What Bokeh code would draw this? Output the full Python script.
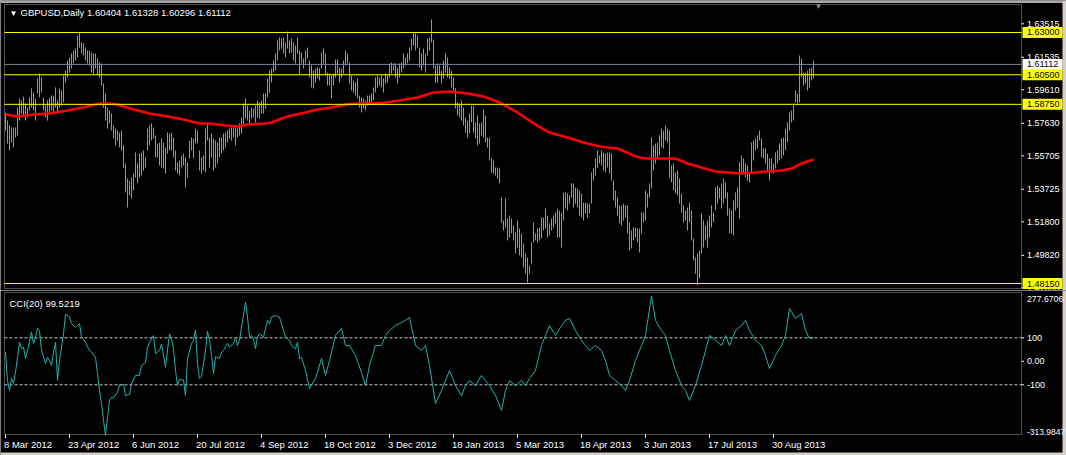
from bokeh.plotting import figure
from bokeh.models import Range1d, Label, BoxAnnotation, ColumnDataSource
from bokeh.layouts import column
from bokeh.embed import file_html
from bokeh.resources import INLINE

FONT = "Liberation Sans"
BAR = "#2fe12f"

# ---------------- data ----------------
bar_high = [
    1.5827, 1.5779, 1.5750, 1.5738, 1.5738, 1.5738, 1.5856, 1.5910, 1.5898, 1.5921,
    1.5880, 1.5856, 1.5916, 1.5969, 1.5945, 1.5910, 1.6028, 1.6057, 1.6034, 1.5916,
    1.5868, 1.5898, 1.5916, 1.5927, 1.5927, 1.5975, 1.5898, 1.5969, 1.5957, 1.6046,
    1.6075, 1.6134, 1.6152, 1.6176, 1.6194, 1.6205, 1.6282, 1.6303, 1.6241, 1.6235,
    1.6211, 1.6194, 1.6194, 1.6182, 1.6176, 1.6176, 1.6146, 1.6123, 1.6117, 1.5998,
    1.5939, 1.5856, 1.5839, 1.5821, 1.5750, 1.5732, 1.5720, 1.5708, 1.5720, 1.5632,
    1.5525, 1.5436, 1.5424, 1.5442, 1.5466, 1.5590, 1.5525, 1.5584, 1.5590, 1.5602,
    1.5561, 1.5732, 1.5750, 1.5762, 1.5738, 1.5691, 1.5643, 1.5649, 1.5673, 1.5649,
    1.5620, 1.5708, 1.5702, 1.5708, 1.5679, 1.5602, 1.5531, 1.5543, 1.5572, 1.5584,
    1.5561, 1.5531, 1.5661, 1.5679, 1.5673, 1.5732, 1.5720, 1.5602, 1.5561, 1.5572,
    1.5732, 1.5762, 1.5679, 1.5702, 1.5673, 1.5661, 1.5649, 1.5679, 1.5679, 1.5702,
    1.5708, 1.5720, 1.5732, 1.5738, 1.5750, 1.5750, 1.5732, 1.5762, 1.5797, 1.5880,
    1.5910, 1.5868, 1.5839, 1.5856, 1.5850, 1.5868, 1.5898, 1.5886, 1.5898, 1.5939,
    1.5939, 1.6028, 1.6075, 1.6087, 1.6134, 1.6176, 1.6253, 1.6270, 1.6264, 1.6270,
    1.6241, 1.6306, 1.6253, 1.6264, 1.6241, 1.6223, 1.6270, 1.6194, 1.6182, 1.6146,
    1.6194, 1.6211, 1.6134, 1.6105, 1.6075, 1.6087, 1.6093, 1.6087, 1.6182, 1.6205,
    1.6176, 1.6063, 1.6057, 1.6046, 1.6057, 1.6140, 1.6140, 1.6093, 1.6087, 1.6134,
    1.6194, 1.6176, 1.6123, 1.6046, 1.6016, 1.6004, 1.6028, 1.5927, 1.5916, 1.5910,
    1.5898, 1.5927, 1.5927, 1.5939, 1.5975, 1.6034, 1.6046, 1.6034, 1.6046, 1.6028,
    1.6057, 1.6046, 1.6117, 1.6123, 1.6117, 1.6117, 1.6093, 1.6117, 1.6123, 1.6176,
    1.6152, 1.6176, 1.6211, 1.6264, 1.6300, 1.6294, 1.6282, 1.6211, 1.6176, 1.6205,
    1.6176, 1.6264, 1.6270, 1.6377, 1.6259, 1.6105, 1.6117, 1.6105, 1.6075, 1.6134,
    1.6176, 1.6152, 1.6093, 1.6075, 1.6034, 1.5969, 1.5886, 1.5880, 1.5898, 1.5856,
    1.5797, 1.5779, 1.5821, 1.5868, 1.5868, 1.5768, 1.5809, 1.5762, 1.5768, 1.5844,
    1.5809, 1.5679, 1.5679, 1.5555, 1.5543, 1.5501, 1.5501, 1.5495, 1.5324, 1.5188,
    1.5318, 1.5199, 1.5217, 1.5199, 1.5158, 1.5117, 1.5188, 1.5140, 1.5111, 1.5052,
    1.4993, 1.4969, 1.4922, 1.5058, 1.5176, 1.5111, 1.5140, 1.5146, 1.5205, 1.5205,
    1.5259, 1.5217, 1.5170, 1.5199, 1.5217, 1.5235, 1.5259, 1.5247, 1.5235, 1.5354,
    1.5354, 1.5348, 1.5336, 1.5407, 1.5407, 1.5383, 1.5377, 1.5365, 1.5348, 1.5294,
    1.5294, 1.5288, 1.5288, 1.5472, 1.5495, 1.5555, 1.5602, 1.5572, 1.5602, 1.5590,
    1.5584, 1.5590, 1.5590, 1.5584, 1.5424, 1.5365, 1.5324, 1.5277, 1.5277, 1.5288,
    1.5277, 1.5277, 1.5176, 1.5129, 1.5146, 1.5146, 1.5140, 1.5140, 1.5235, 1.5235,
    1.5365, 1.5348, 1.5407, 1.5679, 1.5632, 1.5643, 1.5649, 1.5691, 1.5732, 1.5720,
    1.5750, 1.5732, 1.5720, 1.5513, 1.5525, 1.5472, 1.5484, 1.5436, 1.5348, 1.5277,
    1.5247, 1.5265, 1.5294, 1.5247, 1.5081, 1.4969, 1.4993, 1.5010, 1.5229, 1.5188,
    1.5158, 1.5188, 1.5217, 1.5277, 1.5235, 1.5383, 1.5395, 1.5383, 1.5407, 1.5436,
    1.5413, 1.5354, 1.5259, 1.5247, 1.5306, 1.5354, 1.5383, 1.5531, 1.5572, 1.5555,
    1.5525, 1.5513, 1.5472, 1.5649, 1.5661, 1.5673, 1.5691, 1.5720, 1.5673, 1.5614,
    1.5614, 1.5584, 1.5555, 1.5555, 1.5525, 1.5590, 1.5602, 1.5643, 1.5673, 1.5679,
    1.5732, 1.5768, 1.5827, 1.5839, 1.5880, 1.5957, 1.5939, 1.6164, 1.6146, 1.6063,
    1.6063, 1.6075, 1.6087, 1.6093, 1.61328,
]
bar_low = [
    1.5720, 1.5643, 1.5602, 1.5649, 1.5620, 1.5679, 1.5691, 1.5779, 1.5821, 1.5797,
    1.5779, 1.5797, 1.5839, 1.5856, 1.5839, 1.5779, 1.5939, 1.5916, 1.5945, 1.5839,
    1.5797, 1.5779, 1.5821, 1.5839, 1.5827, 1.5856, 1.5821, 1.5856, 1.5868, 1.5886,
    1.6004, 1.6034, 1.6063, 1.6087, 1.6117, 1.6134, 1.6152, 1.6211, 1.6176, 1.6164,
    1.6134, 1.6117, 1.6105, 1.6063, 1.6057, 1.6087, 1.6046, 1.6034, 1.5986, 1.5856,
    1.5779, 1.5732, 1.5762, 1.5720, 1.5673, 1.5632, 1.5661, 1.5620, 1.5602, 1.5501,
    1.5354, 1.5265, 1.5336, 1.5318, 1.5365, 1.5442, 1.5407, 1.5442, 1.5454, 1.5484,
    1.5501, 1.5602, 1.5632, 1.5661, 1.5673, 1.5561, 1.5561, 1.5513, 1.5501, 1.5495,
    1.5466, 1.5584, 1.5602, 1.5602, 1.5561, 1.5484, 1.5466, 1.5454, 1.5501, 1.5513,
    1.5383, 1.5442, 1.5555, 1.5602, 1.5555, 1.5643, 1.5643, 1.5484, 1.5466, 1.5484,
    1.5472, 1.5661, 1.5501, 1.5561, 1.5484, 1.5501, 1.5525, 1.5561, 1.5584, 1.5602,
    1.5620, 1.5649, 1.5673, 1.5661, 1.5679, 1.5632, 1.5679, 1.5691, 1.5702, 1.5750,
    1.5791, 1.5779, 1.5750, 1.5791, 1.5797, 1.5768, 1.5797, 1.5791, 1.5821, 1.5821,
    1.5850, 1.5916, 1.5945, 1.6004, 1.6063, 1.6075, 1.6134, 1.6194, 1.6205, 1.6176,
    1.6152, 1.6205, 1.6176, 1.6182, 1.6134, 1.6117, 1.6176, 1.6057, 1.6117, 1.6087,
    1.6117, 1.6146, 1.6034, 1.5975, 1.5969, 1.6004, 1.6028, 1.6016, 1.6087, 1.6117,
    1.6046, 1.5986, 1.5986, 1.5910, 1.5986, 1.6034, 1.6057, 1.6004, 1.6034, 1.6057,
    1.6105, 1.6117, 1.5998, 1.5957, 1.5945, 1.5927, 1.5910, 1.5856, 1.5827, 1.5850,
    1.5839, 1.5868, 1.5880, 1.5886, 1.5898, 1.5945, 1.5975, 1.5986, 1.5975, 1.5945,
    1.5998, 1.6004, 1.6034, 1.6057, 1.6075, 1.6034, 1.5998, 1.6034, 1.6063, 1.6087,
    1.6105, 1.6117, 1.6134, 1.6194, 1.6223, 1.6194, 1.6211, 1.6093, 1.6075, 1.6105,
    1.6063, 1.6164, 1.6194, 1.6241, 1.6087, 1.6004, 1.6004, 1.6046, 1.5998, 1.6028,
    1.6063, 1.6034, 1.6028, 1.5975, 1.5957, 1.5850, 1.5809, 1.5797, 1.5779, 1.5750,
    1.5708, 1.5679, 1.5702, 1.5768, 1.5708, 1.5673, 1.5632, 1.5643, 1.5691, 1.5679,
    1.5649, 1.5620, 1.5543, 1.5472, 1.5466, 1.5454, 1.5436, 1.5407, 1.5176, 1.5129,
    1.5146, 1.5070, 1.5087, 1.5111, 1.5070, 1.4993, 1.5028, 1.4981, 1.4969, 1.4910,
    1.4874, 1.4821, 1.4874, 1.4934, 1.5058, 1.5070, 1.5058, 1.5070, 1.5081, 1.5129,
    1.5140, 1.5087, 1.5099, 1.5129, 1.5146, 1.5170, 1.5087, 1.5087, 1.5028, 1.5188,
    1.5259, 1.5247, 1.5288, 1.5324, 1.5265, 1.5288, 1.5265, 1.5217, 1.5205, 1.5188,
    1.5229, 1.5205, 1.5229, 1.5288, 1.5424, 1.5454, 1.5501, 1.5525, 1.5513, 1.5484,
    1.5472, 1.5501, 1.5466, 1.5424, 1.5306, 1.5265, 1.5217, 1.5170, 1.5158, 1.5188,
    1.5205, 1.5111, 1.5010, 1.5022, 1.5070, 1.5087, 1.5058, 1.4999, 1.5111, 1.5176,
    1.5188, 1.5265, 1.5324, 1.5377, 1.5484, 1.5525, 1.5555, 1.5572, 1.5620, 1.5614,
    1.5661, 1.5649, 1.5442, 1.5413, 1.5365, 1.5348, 1.5336, 1.5288, 1.5235, 1.5176,
    1.5188, 1.5129, 1.5176, 1.5070, 1.4951, 1.4874, 1.4803, 1.4845, 1.4993, 1.5028,
    1.5070, 1.5028, 1.5087, 1.5146, 1.5176, 1.5247, 1.5288, 1.5318, 1.5259, 1.5288,
    1.5318, 1.5217, 1.5111, 1.5111, 1.5099, 1.5247, 1.5265, 1.5199, 1.5472, 1.5466,
    1.5442, 1.5424, 1.5413, 1.5466, 1.5543, 1.5602, 1.5614, 1.5661, 1.5561, 1.5555,
    1.5525, 1.5484, 1.5424, 1.5472, 1.5466, 1.5495, 1.5525, 1.5543, 1.5555, 1.5572,
    1.5602, 1.5649, 1.5720, 1.5768, 1.5779, 1.5886, 1.5880, 1.5886, 1.6034, 1.5986,
    1.5998, 1.5957, 1.5975, 1.6016, 1.60296,
]

# moving average (red) read at these bar positions
ma_idx = [0, 6, 14, 22, 31, 39, 47, 52, 56, 64, 72, 81, 89, 97, 102, 110, 116, 121,
          130, 133, 138, 143, 150, 156, 163, 170, 176, 183, 190, 197, 206, 214, 222,
          231, 239, 247, 256, 264, 272, 281, 289, 297, 306, 315, 320, 330, 335, 341,
          348, 355, 361, 367, 375, 381, 388, 393, 398, 404]
ma_val = [1.5815, 1.5803, 1.5815, 1.5821, 1.5839, 1.5856, 1.5880, 1.5880, 1.5874,
          1.5844, 1.5821, 1.5803, 1.5785, 1.5762, 1.5762, 1.5750, 1.5744, 1.5756,
          1.5762, 1.5768, 1.5791, 1.5809, 1.5827, 1.5844, 1.5856, 1.5874, 1.5880,
          1.5880, 1.5886, 1.5898, 1.5916, 1.5945, 1.5951, 1.5939, 1.5921, 1.5886,
          1.5827, 1.5762, 1.5708, 1.5679, 1.5649, 1.5626, 1.5614, 1.5567, 1.5555,
          1.5555, 1.5555, 1.5525, 1.5501, 1.5478, 1.5472, 1.5466, 1.5472, 1.5478,
          1.5484, 1.5495, 1.5525, 1.5549]

# CCI(20) read at these bar positions
cci_idx = [0, 1, 2, 3, 4, 5, 7, 8, 9, 10, 11, 13, 14, 15, 16, 17, 18, 20, 21, 22, 23,
           24, 25, 26, 27, 29, 30, 32, 33, 35, 37, 38, 40, 42, 43, 45, 46, 47, 48, 49,
           50, 51, 52, 53, 54, 56, 57, 59, 60, 62, 63, 65, 67, 68, 70, 71, 72, 74, 75,
           77, 78, 79, 80, 82, 83, 84, 85, 86, 87, 89, 90, 91, 93, 94, 95, 96, 97, 98,
           100, 101, 102, 103, 104, 105, 107, 108, 109, 111, 112, 114, 115, 116, 117,
           118, 120, 121, 122, 123, 124, 125, 126, 127, 129, 131, 132, 133, 135, 137,
           138, 140, 142, 143, 145, 146, 147, 148, 150, 152, 155, 158, 160, 162, 165,
           168, 170, 172, 175, 178, 180, 182, 185, 188, 190, 192, 195, 198, 200, 202,
           205, 208, 210, 212, 215, 218, 220, 222, 225, 228, 230, 232, 235, 238, 240,
           242, 245, 248, 250, 252, 255, 258, 260, 262, 265, 268, 270, 272, 275, 278,
           280, 282, 285, 288, 290, 292, 295, 298, 300, 302, 305, 308, 310, 312, 315,
           318, 320, 323, 325, 328, 330, 332, 335, 338, 340, 342, 345, 348, 350, 352,
           355, 358, 360, 362, 365, 368, 370, 372, 375, 378, 380, 382, 385, 388, 390,
           392, 395, 398, 400, 402, 404]
cci_val = [39, -82, -124, -73, -94, -46, 81, 54, 60, 12, 45, 124, 76, 100, 141, 130, 46,
           -9, 17, 3, -18, 39, 81, -82, 3, 117, 200, 190, 160, 145, 160, 103, 81, 46,
           39, 17, -52, -124, -180, -252, -313.98, -238, -167, -153, -155, -131, -103,
           -98, -146, -141, -96, -60, -60, -18, -5, 60, 81, 110, 32, 46, 74, 25, -25,
           117, 96, 53, -39, -103, -77, -80, -146, 11, 76, 89, 134, -11, -73, -63, 46,
           128, 89, 25, -52, 20, 12, 39, 46, 76, 60, 76, 103, 67, 89, 145, 251, 188,
           103, 110, 96, 53, 103, 117, 103, 174, 160, 188, 195, 188, 160, 103, 89, 67,
           53, 81, 11, 16, -39, -116, -73, 12, -60, 3, 110, 140, 67, 67, 25, -48, -103,
           -18, 67, 67, 110, 131, 152, 165, 174, 186, 67, 46, 67, -18, -180, -124, -82,
           -39, -103, -146, -103, -82, -103, -60, -82, -103, -146, -209, -124, -82,
           -103, -82, -103, -73, -39, 67, 110, 152, 110, 152, 174, 182, 131, 89, 67, 46,
           67, 46, 3, -60, -82, -103, -124, -82, 3, 67, 110, 277.67, 174, 131, 110, 46,
           -39, -103, -124, -167, -103, -18, 46, 110, 89, 67, 110, 67, 131, 152, 174,
           131, 89, 67, 25, -31, 25, 67, 110, 225, 182, 203, 131, 97, 99.52]

price_ticks = [1.47895, 1.49820, 1.51800, 1.53725, 1.55705, 1.57630, 1.59610, 1.61535, 1.63515]
level_lines = [1.63000, 1.60500, 1.58750, 1.48150]
bid_price = 1.61112
cci_ticks = [100, 0, -100]
cci_tick_labels = ["100", "0.00", "-100"]
cci_levels = [100, -100]
cci_max, cci_max_text = 277.6706, "277.6706"
cci_min, cci_min_text = -313.9847, "-313.9847"
date_ticks = [0, 32, 64, 96, 128, 160, 192, 224, 256, 288, 320, 352, 384]
date_labels = ["8 Mar 2012", "23 Apr 2012", "6 Jun 2012", "20 Jul 2012", "4 Sep 2012",
               "18 Oct 2012", "3 Dec 2012", "18 Jan 2013", "5 Mar 2013", "18 Apr 2013",
               "3 Jun 2013", "17 Jul 2013", "30 Aug 2013"]
title_text = "GBPUSD,Daily 1.60404 1.61328 1.60296 1.61112"
cci_title = "CCI(20) 99.5219"

# ---------------- layout (the canvas is the whole window) ----------------
W, H1, H2 = 1066, 290, 165
X0, X1 = -2.5, 530.5            # bar index range over the canvas width (2 px per bar)
P_LO, P_HI = 1.47737, 1.64893   # price range over the upper canvas
C_LO, C_HI = -400.77, 301.24    # CCI range over the lower canvas
XPX = (X1 - X0) / W
PPX = (P_HI - P_LO) / H1
CPX = (C_HI - C_LO) / H2


def bx(px):   # horizontal canvas pixel -> bar units
    return X0 + px * XPX


def py(px):   # vertical pixel (upper canvas) -> price units
    return P_HI - px * PPX


def cy(px):   # vertical pixel (whole window) -> CCI units
    return C_HI - (px - H1) * CPX


PX_L, PX_R = bx(4), bx(1021)
xr = Range1d(X0, X1)


def base(height, yr):
    p = figure(width=W, height=height, x_range=xr, y_range=yr, output_backend="svg",
               toolbar_location=None, x_axis_location=None, y_axis_location=None,
               min_border=0)
    p.min_border_left = p.min_border_right = p.min_border_top = p.min_border_bottom = 0
    p.background_fill_color = "black"
    p.border_fill_color = "black"
    p.outline_line_color = None
    p.grid.visible = False
    return p


def txt(p, x, y, text, **kw):
    opts = dict(text_color="white", text_font=FONT, text_font_size="9.5px")
    opts.update(kw)
    p.add_layout(Label(x=x, y=y, text=text, **opts))


# ---------- main price panel ----------
p1 = base(H1, Range1d(P_LO, P_HI))
p1.add_layout(BoxAnnotation(bottom=py(2.6), fill_color="#a8a8a8", fill_alpha=1, line_color=None))
p1.add_layout(BoxAnnotation(left=bx(1062), fill_color="#d4d0c8", fill_alpha=1, line_color=None))

src = ColumnDataSource(dict(i=list(range(len(bar_high))), high=bar_high, low=bar_low))
p1.segment(x0="i", y0="low", x1="i", y1="high", source=src, line_color=BAR, line_width=1)
p1.line(ma_idx, ma_val, line_color="#ff0000", line_width=2.6)

n = len(level_lines)
p1.segment(x0=[PX_L] * n, y0=level_lines, x1=[PX_R] * n, y1=level_lines,
           line_color="#ffff00", line_width=1)
p1.segment(x0=[PX_L], y0=[bid_price], x1=[PX_R], y1=[bid_price], line_color="#778899",
           line_width=1)
p1.add_layout(BoxAnnotation(left=PX_L, right=PX_R, top=py(4), bottom=py(288),
                            fill_alpha=0, line_color="white", line_width=1))

# right price scale
m = len(price_ticks)
p1.segment(x0=[PX_R] * m, y0=price_ticks, x1=[bx(1023.5)] * m, y1=price_ticks,
           line_color="white", line_width=1)
for t in price_ticks:
    if t < py(284):
        txt(p1, PX_R, py(290), f"{t:.5f}", x_offset=5.5, text_baseline="bottom",
            text_font_size="9px")
    else:
        txt(p1, PX_R, t, f"{t:.5f}", x_offset=5.5, text_baseline="middle", text_font_size="9px")

half = 5.5 * PPX
p1.add_layout(BoxAnnotation(left=bx(1022), right=bx(1062), top=bid_price + half,
                            bottom=bid_price - half, fill_color="#ffffff", fill_alpha=1,
                            line_color=None))
for lv in level_lines:
    p1.add_layout(BoxAnnotation(left=bx(1022), right=bx(1062), top=lv + half, bottom=lv - half,
                                fill_color="#ffff00", fill_alpha=1, line_color=None))
for lv in level_lines + [bid_price]:
    txt(p1, PX_R, lv, f"{lv:.5f}", x_offset=5.5, text_baseline="middle", text_color="black",
        text_font_size="9px")

# titles
txt(p1, bx(9), py(8), "\u25BC", text_font_size="8px", text_baseline="top")
txt(p1, bx(20), py(6.5), title_text, text_baseline="top")
txt(p1, bx(818), py(1), "\u25BC", text_font_size="8px", text_baseline="top",
    text_align="center", text_color="#8c8c8c")

# ---------- CCI panel ----------
p2 = base(H2, Range1d(C_LO, C_HI))
p2.add_layout(BoxAnnotation(left=bx(1062), fill_color="#d4d0c8", fill_alpha=1, line_color=None))
p2.add_layout(BoxAnnotation(top=cy(452), fill_color="#d4d0c8", fill_alpha=1, line_color=None))

k = len(cci_levels)
p2.segment(x0=[PX_L] * k, y0=cci_levels, x1=[PX_R] * k, y1=cci_levels,
           line_color="#c8c8c8", line_width=1, line_dash="3 2")
p2.line(cci_idx, cci_val, line_color="#20b2aa", line_width=1)
p2.add_layout(BoxAnnotation(left=PX_L, right=PX_R, top=cy(292), bottom=cy(434),
                            fill_alpha=0, line_color="white", line_width=1))

j = len(cci_ticks)
p2.segment(x0=[PX_R] * j, y0=cci_ticks, x1=[bx(1023.5)] * j, y1=cci_ticks,
           line_color="white", line_width=1)
for t, lab in zip(cci_ticks, cci_tick_labels):
    txt(p2, PX_R, t, lab, x_offset=5.5, text_baseline="middle", text_font_size="9px")
txt(p2, PX_R, cci_max, cci_max_text, x_offset=5.5, text_baseline="top", text_font_size="8.7px")
txt(p2, PX_R, cci_min, cci_min_text, x_offset=5.5, text_baseline="bottom",
    text_font_size="8.5px")
txt(p2, bx(9), cy(297.5), cci_title, text_baseline="top")

# date scale
d = len(date_ticks)
p2.segment(x0=date_ticks, y0=[cy(434)] * d, x1=date_ticks, y1=[cy(437.5)] * d,
           line_color="white", line_width=1)
for t, lab in zip(date_ticks, date_labels):
    txt(p2, t, cy(438), lab, x_offset=-1.5, text_baseline="top")

layout = column(p1, p2)
open("out.html", "w").write(file_html(layout, INLINE))
